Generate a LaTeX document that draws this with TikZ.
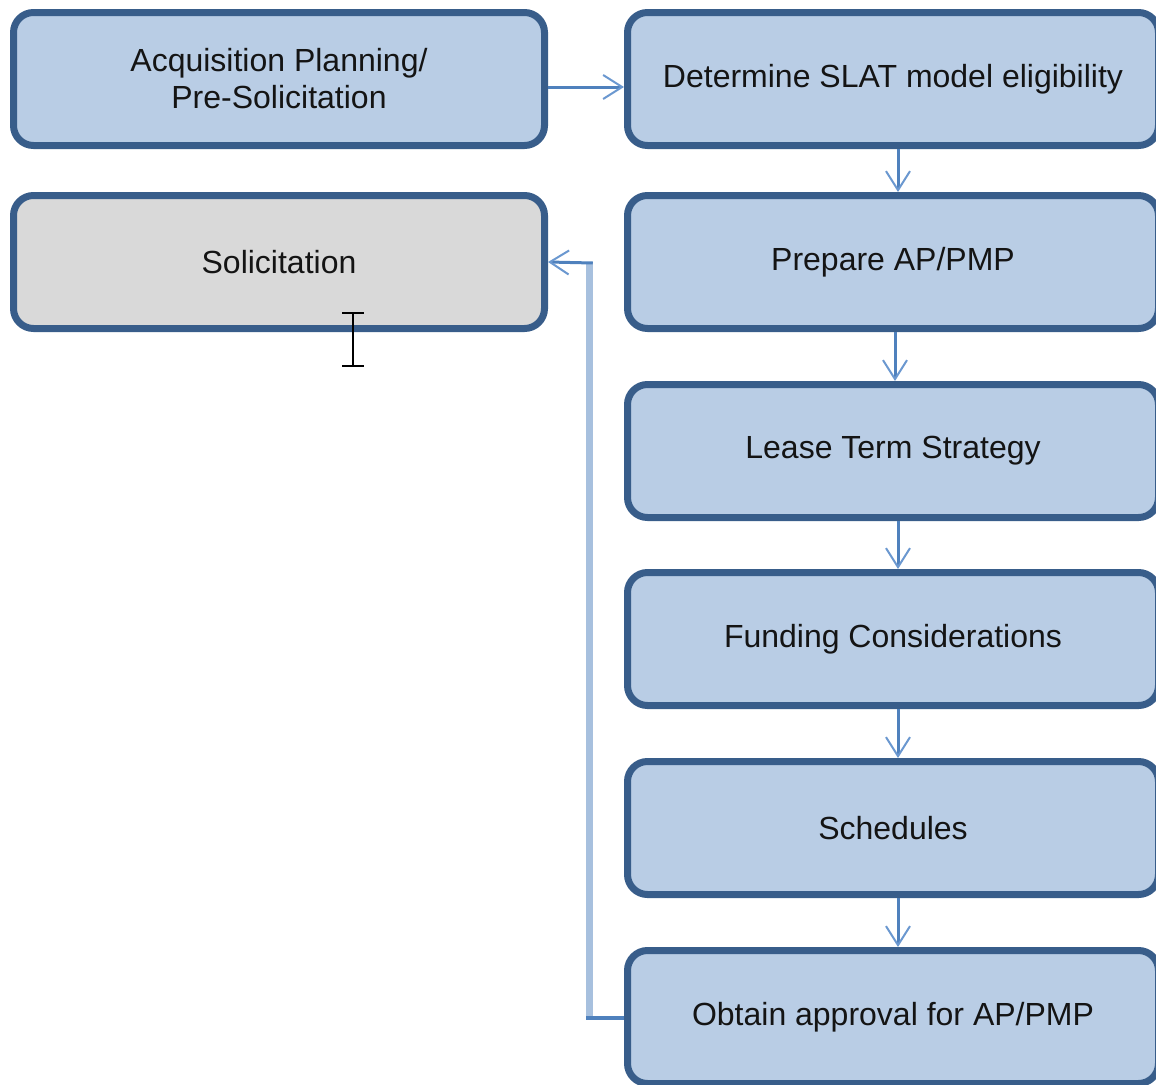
\documentclass[tikz,border=0pt]{standalone}
\usepackage{fontspec}
\setmainfont{Liberation Sans}
\usetikzlibrary{arrows.meta}
\definecolor{boxfill}{HTML}{B9CDE5}
\definecolor{boxline}{HTML}{385D8A}
\definecolor{greyfill}{HTML}{D9D9D9}
\definecolor{linkblue}{HTML}{4F81BD}
\definecolor{tipblue}{HTML}{6B98D0}
\definecolor{linklight}{HTML}{A7C0DE}
\begin{document}
\begin{tikzpicture}[x=1pt,y=-1pt,
  stepbox/.style={draw=boxline, fill=boxfill, line width=7pt, rounded corners=20pt,
    minimum width=531pt, minimum height=133pt, align=center, inner sep=0pt,
    font=\fontsize{32}{37}\selectfont, text=black!92},
  barb/.style={-{Straight Barb[length=19pt,width=24pt,line width=2pt,color=tipblue]}},
  link/.style={draw=linkblue, line width=3pt, barb}]
\useasboundingbox (0,0) rectangle (1156,1084);
\clip (0,0) rectangle (1156,1084);

% left column
\node[stepbox] (acq) at (279,79) {Acquisition Planning/\\Pre-Solicitation};
\node[stepbox, fill=greyfill] (sol) at (279,262) {Solicitation};

% right column
\node[stepbox] (det)   at (893,79)   {Determine SLAT model eligibility};
\node[stepbox] (prep)  at (893,262)  {Prepare AP/PMP};
\node[stepbox] (lease) at (893,451)  {Lease Term Strategy};
\node[stepbox] (fund)  at (893,639)  {Funding Considerations};
\node[stepbox] (sched) at (893,828)  {Schedules};
\node[stepbox] (obt)   at (893,1017) {Obtain approval for AP/PMP};

% forward connectors
\draw[link] ([yshift=-8pt]acq.east) -- ([yshift=-8pt]det.west);
\draw[link] ([xshift=5pt]det.south) -- ([xshift=5pt]prep.north);
\draw[link] ([xshift=2pt]prep.south) -- ([xshift=2pt]lease.north);
\draw[link] ([xshift=5pt]lease.south) -- ([xshift=5pt]fund.north);
\draw[link] ([xshift=5pt]fund.south) -- ([xshift=5pt]sched.north);
\draw[link] ([xshift=5pt]sched.south) -- ([xshift=5pt]obt.north);

% return connector from approval back to solicitation
\coordinate (lowbend) at (589.5,1018);
\coordinate (topbend) at (589.5,263);
\draw[draw=linklight, line width=6.5pt] (lowbend) -- (topbend);
\draw[draw=linkblue, line width=3.5pt] ([yshift=-1pt]obt.west) -- ([xshift=-3.25pt]lowbend);
\draw[link] ([xshift=3.25pt]topbend) -- (sol.east);

% text cursor
\draw[line width=2.5pt] (342,313) -- (364,313) (353,313) -- (353,366) (342,366) -- (364,366);
\end{tikzpicture}
\end{document}
